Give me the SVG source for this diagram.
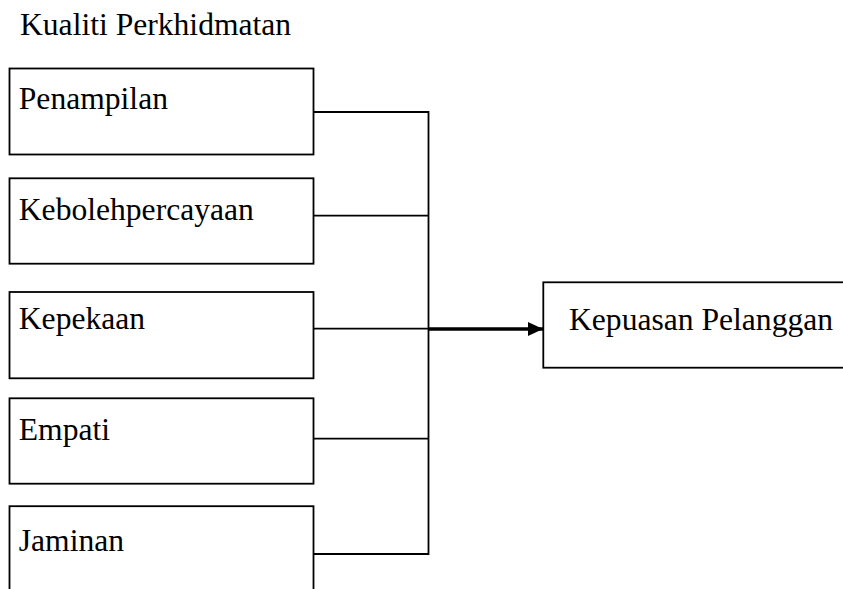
<svg xmlns="http://www.w3.org/2000/svg" width="843" height="589" viewBox="0 0 843 589">
<defs>
<style>
.box{fill:#fff;stroke:#000;stroke-width:1.8}
.t{font-family:"Liberation Serif","Times New Roman",serif;font-size:31.6px;fill:#000}
.c{fill:none;stroke:#000;stroke-width:1.8}
</style>
<marker id="ah" markerUnits="userSpaceOnUse" markerWidth="16" markerHeight="16" refX="15" refY="8" orient="auto">
<path d="M0,1 L15,8 L0,15 Z" fill="#000"/>
</marker>
</defs>
<rect width="843" height="589" fill="#fff"/>
<text class="t" x="20" y="35">Kualiti Perkhidmatan</text>
<g id="connectors">
<path class="c" d="M313.5,112 H428.5 V554 H313.5"/>
<path class="c" d="M313.5,215.7 H428.5"/>
<path class="c" d="M313.5,328.7 H428.5"/>
<path class="c" d="M313.5,438.7 H428.5"/>
<path d="M428.5,329 H543" fill="none" stroke="#000" stroke-width="3.4" marker-end="url(#ah)"/>
</g>
<g id="penampilan"><rect class="box" x="9.5" y="68.5" width="304" height="86"/><text class="t" x="18.8" y="108.5">Penampilan</text></g>
<g id="kebolehpercayaan"><rect class="box" x="9.5" y="178.3" width="304" height="85.4"/><text class="t" x="18.8" y="219.5">Kebolehpercayaan</text></g>
<g id="kepekaan"><rect class="box" x="9.5" y="292" width="304" height="86.3"/><text class="t" x="18.8" y="329">Kepekaan</text></g>
<g id="empati"><rect class="box" x="9.5" y="398.3" width="304" height="85.4"/><text class="t" x="18.8" y="440">Empati</text></g>
<g id="jaminan"><rect class="box" x="9.5" y="506.2" width="304" height="100"/><text class="t" x="18.8" y="551">Jaminan</text></g>
<g id="kepuasan"><rect class="box" x="543.3" y="282.3" width="320" height="85.4"/><text class="t" x="569" y="330">Kepuasan Pelanggan</text></g>
</svg>
